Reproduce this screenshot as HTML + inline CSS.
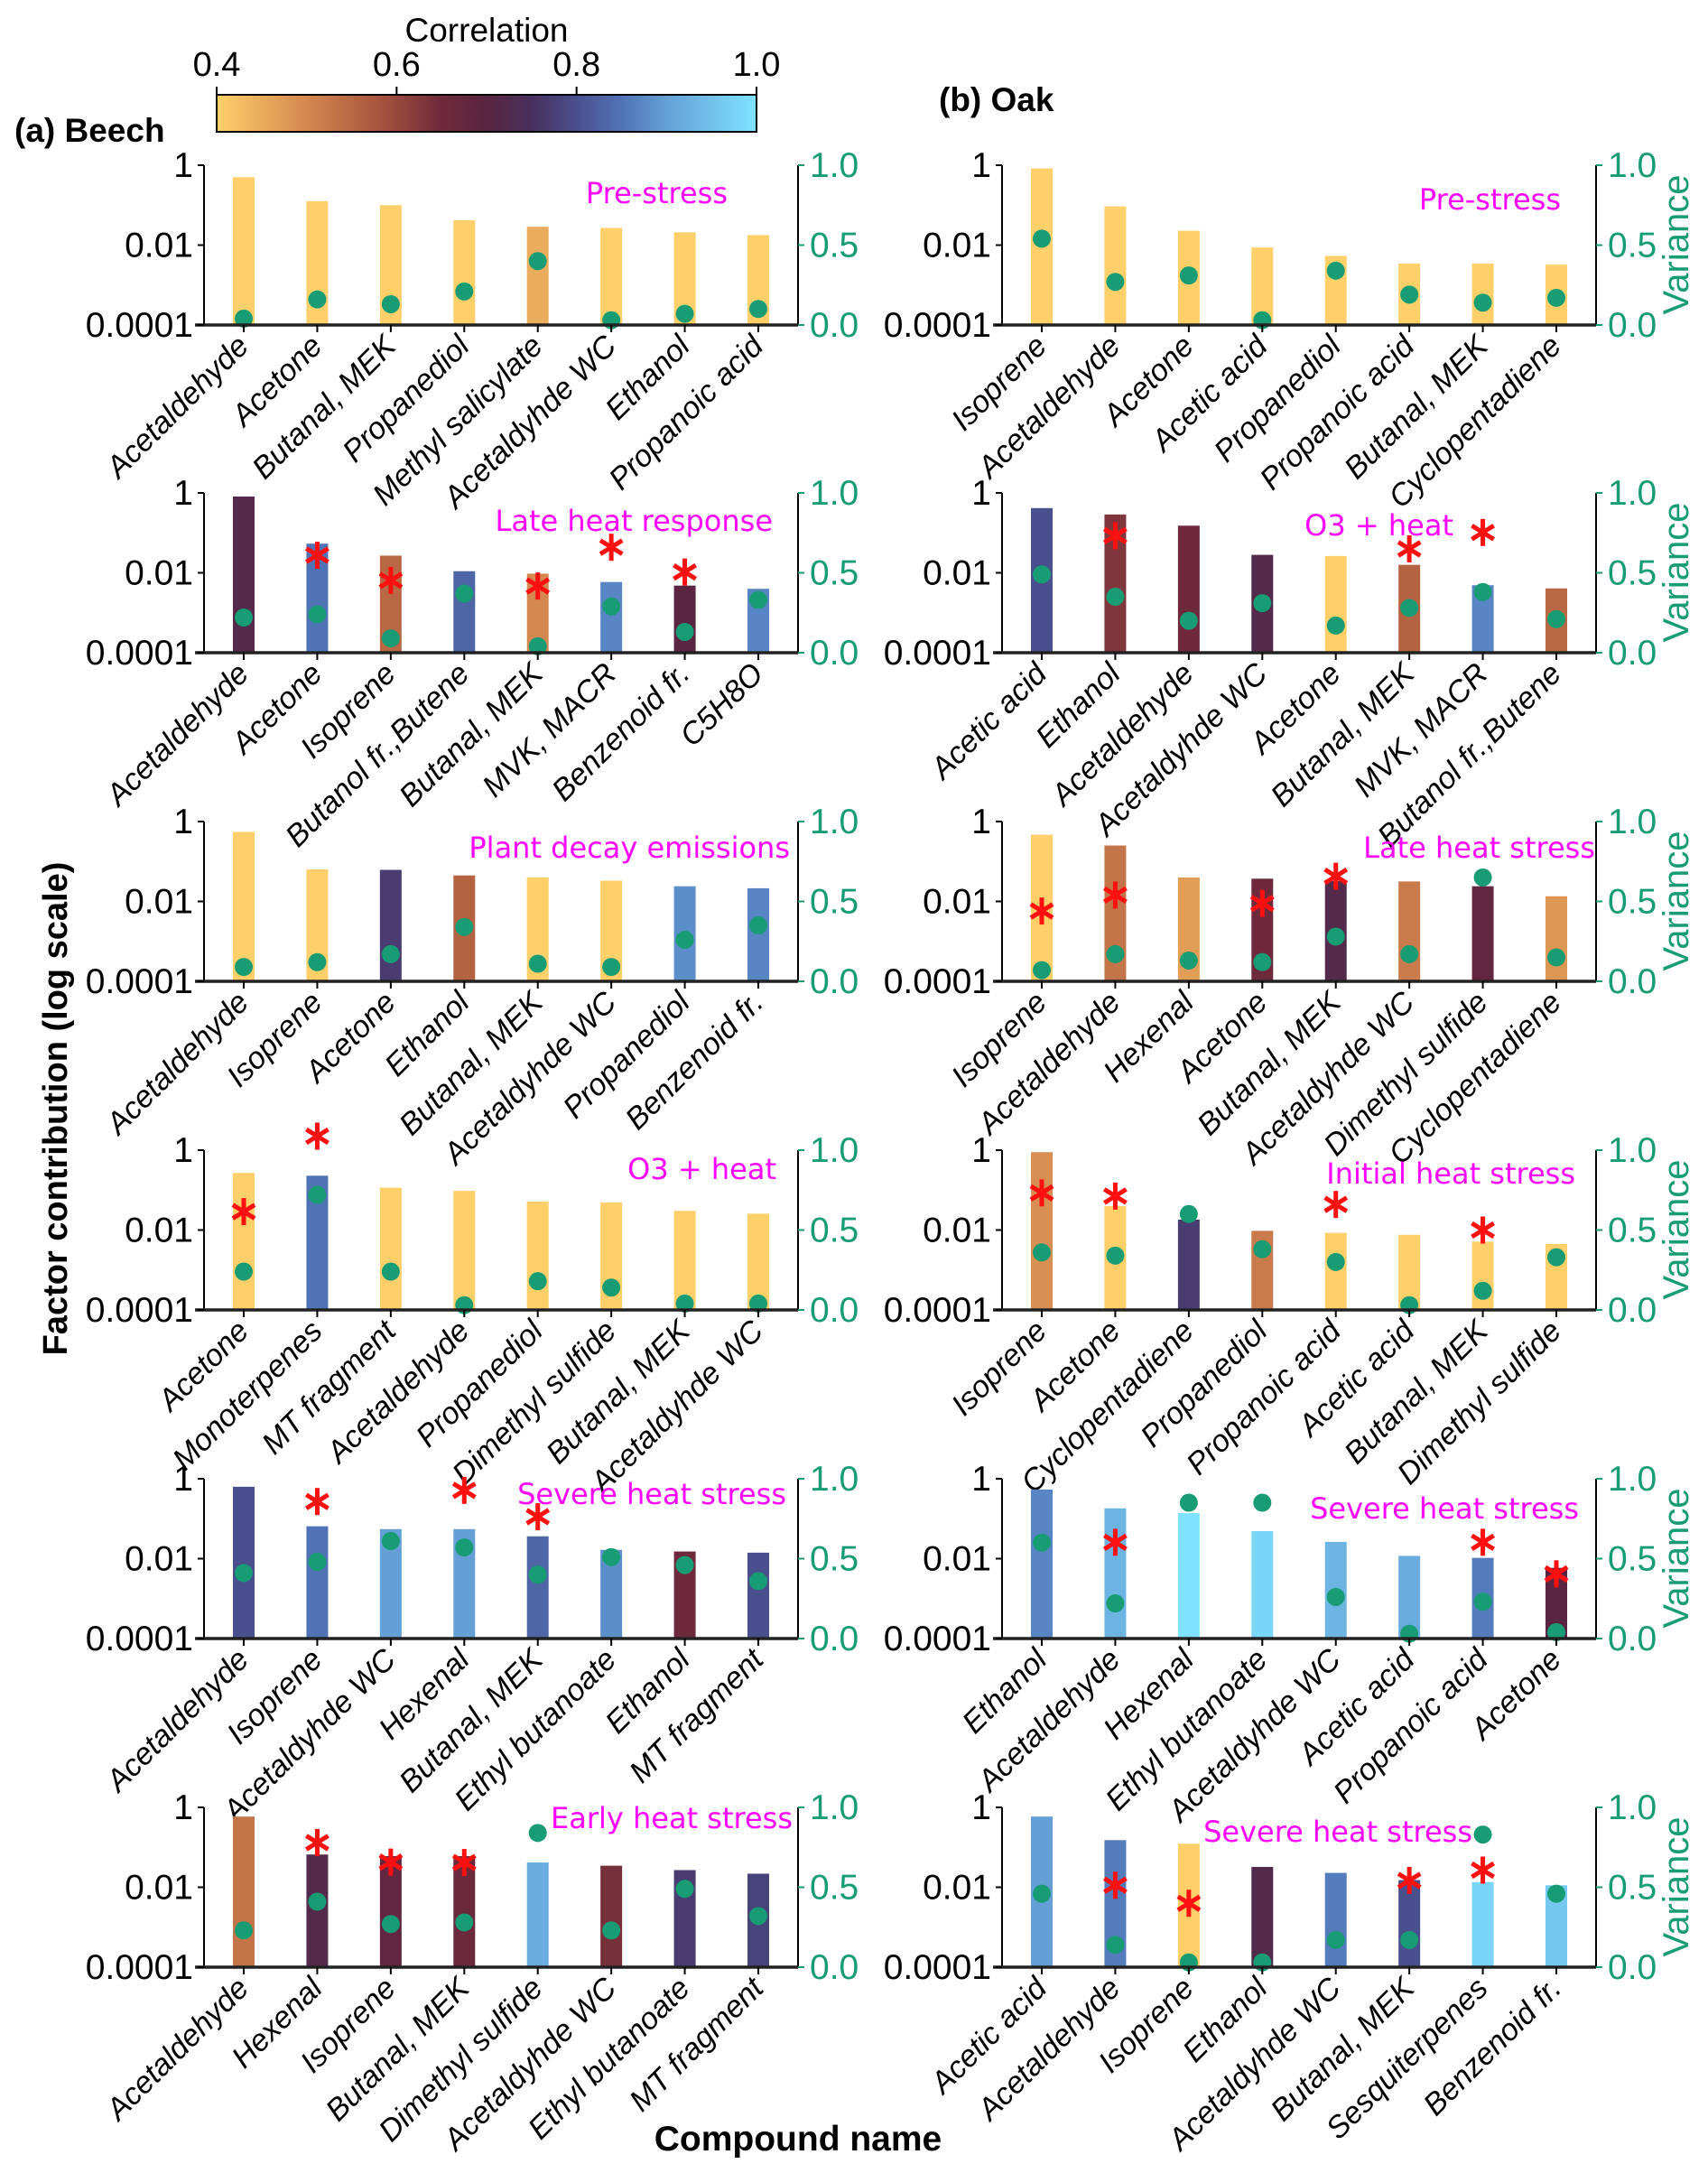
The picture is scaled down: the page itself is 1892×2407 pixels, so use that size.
<!DOCTYPE html>
<html><head><meta charset="utf-8"><style>
html,body{margin:0;padding:0;background:#fff}
svg{display:block}
text{font-family:"Liberation Sans",sans-serif}
</style></head><body>
<svg id="fig" width="1892" height="2407" viewBox="0 0 1892 2407" xmlns="http://www.w3.org/2000/svg">
<defs>
<linearGradient id="cmap" x1="0" x2="1" y1="0" y2="0">
<stop offset="0" stop-color="#ffd06a"/><stop offset="0.1667" stop-color="#d4884f"/><stop offset="0.3" stop-color="#a8553e"/><stop offset="0.4167" stop-color="#6e2a3c"/><stop offset="0.5" stop-color="#5a2540"/><stop offset="0.5833" stop-color="#48305e"/><stop offset="0.6667" stop-color="#4a4f8e"/><stop offset="0.75" stop-color="#5073b6"/><stop offset="0.8333" stop-color="#64a0d6"/><stop offset="1" stop-color="#7fe3ff"/>
</linearGradient>
</defs>
<g id="cbar">
<text x="539" y="46" font-size="37" text-anchor="middle">Correlation</text>
<rect x="240" y="105" width="598" height="41" fill="url(#cmap)" stroke="#000" stroke-width="2"/>
</g>
<text x="16" y="157" font-size="37" font-weight="bold">(a) Beech</text>
<text x="1040" y="123" font-size="37" font-weight="bold">(b) Oak</text>
<text transform="translate(74,1228) rotate(-90)" font-size="38" font-weight="bold" text-anchor="middle">Factor contribution (log scale)</text>
<text x="884" y="2382" font-size="39" font-weight="bold" text-anchor="middle">Compound name</text>
<g id="panels"></g>
</svg>
<script>
const cbTicks=[0.4,0.6,0.8,1.0];
const cbTickLabels=["0.4","0.6","0.8","1.0"];
const leftTicks=[0,-2,-4];
const leftTickLabels=["1","0.01","0.0001"];
const rightTicks=[1,0.5,0];
const rightTickLabels=["1.0","0.5","0.0"];

const b1Names=["Acetaldehyde","Acetone","Butanal, MEK","Propanediol","Methyl salicylate","Acetaldyhde WC","Ethanol","Propanoic acid"];
const b1Log=[-0.3,-0.9,-1.0,-1.38,-1.54,-1.57,-1.68,-1.75];
const b1Var=[0.04,0.16,0.13,0.21,0.40,0.03,0.07,0.10];
const b1Corr=[0.4,0.4,0.4,0.4,0.45,0.4,0.4,0.4];
const b1Star=[null,null,null,null,null,null,null,null];

const b2Names=["Acetaldehyde","Acetone","Isoprene","Butanol fr.,Butene","Butanal, MEK","MVK, MACR","Benzenoid fr.","C5H8O"];
const b2Log=[-0.09,-1.27,-1.57,-1.96,-2.02,-2.23,-2.32,-2.40];
const b2Var=[0.22,0.24,0.09,0.37,0.04,0.29,0.13,0.33];
const b2Corr=[0.72,0.85,0.55,0.83,0.5,0.87,0.7,0.87];
const b2Star=[null,-1.56,-2.19,null,-2.33,-1.36,-1.98,null];

const b3Names=["Acetaldehyde","Isoprene","Acetone","Ethanol","Butanal, MEK","Acetaldyhde WC","Propanediol","Benzenoid fr."];
const b3Log=[-0.26,-1.2,-1.21,-1.35,-1.40,-1.48,-1.62,-1.67];
const b3Var=[0.09,0.12,0.17,0.34,0.11,0.09,0.26,0.35];
const b3Corr=[0.4,0.4,0.77,0.56,0.4,0.4,0.88,0.87];
const b3Star=[null,null,null,null,null,null,null,null];

const b4Names=["Acetone","Monoterpenes","MT fragment","Acetaldehyde","Propanediol","Dimethyl sulfide","Butanal, MEK","Acetaldyhde WC"];
const b4Log=[-0.57,-0.64,-0.94,-1.02,-1.29,-1.31,-1.52,-1.59];
const b4Var=[0.24,0.72,0.24,0.03,0.18,0.14,0.04,0.04];
const b4Corr=[0.4,0.85,0.4,0.4,0.4,0.4,0.4,0.4];
const b4Star=[-1.54,0.35,null,null,null,null,null,null];

const b5Names=["Acetaldehyde","Isoprene","Acetaldyhde WC","Hexenal","Butanal, MEK","Ethyl butanoate","Ethanol","MT fragment"];
const b5Log=[-0.2,-1.19,-1.26,-1.26,-1.44,-1.78,-1.82,-1.85];
const b5Var=[0.41,0.48,0.61,0.57,0.40,0.51,0.46,0.36];
const b5Corr=[0.8,0.85,0.9,0.9,0.83,0.88,0.65,0.8];
const b5Star=[null,-0.57,null,-0.29,-0.95,null,null,null];

const b6Names=["Acetaldehyde","Hexenal","Isoprene","Butanal, MEK","Dimethyl sulfide","Acetaldyhde WC","Ethyl butanoate","MT fragment"];
const b6Log=[-0.23,-1.18,-1.22,-1.22,-1.38,-1.46,-1.57,-1.66];
const b6Var=[0.23,0.41,0.27,0.28,0.84,0.23,0.49,0.32];
const b6Corr=[0.53,0.72,0.68,0.66,0.92,0.64,0.77,0.78];
const b6Star=[null,-0.88,-1.37,-1.38,null,null,null,null];

const o1Names=["Isoprene","Acetaldehyde","Acetone","Acetic acid","Propanediol","Propanoic acid","Butanal, MEK","Cyclopentadiene"];
const o1Log=[-0.08,-1.03,-1.64,-2.06,-2.27,-2.46,-2.46,-2.49];
const o1Var=[0.54,0.27,0.31,0.03,0.34,0.19,0.14,0.17];
const o1Corr=[0.4,0.4,0.4,0.4,0.4,0.4,0.4,0.4];
const o1Star=[null,null,null,null,null,null,null,null];

const o2Names=["Acetic acid","Ethanol","Acetaldehyde","Acetaldyhde WC","Acetone","Butanal, MEK","MVK, MACR","Butanol fr.,Butene"];
const o2Log=[-0.38,-0.54,-0.82,-1.55,-1.58,-1.80,-2.31,-2.39];
const o2Var=[0.49,0.35,0.20,0.31,0.17,0.28,0.38,0.21];
const o2Corr=[0.8,0.63,0.65,0.72,0.4,0.56,0.87,0.55];
const o2Star=[null,-1.07,null,null,null,-1.40,-0.99,null];

const o3Names=["Isoprene","Acetaldehyde","Hexenal","Acetone","Butanal, MEK","Acetaldyhde WC","Dimethyl sulfide","Cyclopentadiene"];
const o3Log=[-0.33,-0.6,-1.40,-1.43,-1.49,-1.50,-1.62,-1.87];
const o3Var=[0.07,0.17,0.13,0.12,0.28,0.17,0.65,0.15];
const o3Corr=[0.4,0.53,0.47,0.65,0.72,0.52,0.68,0.48];
const o3Star=[-2.24,-1.84,null,-2.05,-1.37,null,null,null];

const o4Names=["Isoprene","Acetone","Cyclopentadiene","Propanediol","Propanoic acid","Acetic acid","Butanal, MEK","Dimethyl sulfide"];
const o4Log=[-0.05,-1.40,-1.74,-2.02,-2.07,-2.12,-2.29,-2.35];
const o4Var=[0.36,0.34,0.60,0.38,0.30,0.03,0.12,0.33];
const o4Corr=[0.49,0.4,0.77,0.52,0.4,0.4,0.4,0.4];
const o4Star=[-1.07,-1.15,null,null,-1.36,null,-2.0,null];

const o5Names=["Ethanol","Acetaldehyde","Hexenal","Ethyl butanoate","Acetaldyhde WC","Acetic acid","Propanoic acid","Acetone"];
const o5Log=[-0.27,-0.74,-0.86,-1.31,-1.58,-1.93,-1.98,-2.23];
const o5Var=[0.60,0.22,0.85,0.85,0.26,0.03,0.23,0.04];
const o5Corr=[0.87,0.93,1.0,0.98,0.93,0.92,0.86,0.7];
const o5Star=[null,-1.59,null,null,null,null,-1.59,-2.38];

const o6Names=["Acetic acid","Acetaldehyde","Isoprene","Ethanol","Acetaldyhde WC","Butanal, MEK","Sesquiterpenes","Benzenoid fr."];
const o6Log=[-0.23,-0.82,-0.91,-1.49,-1.64,-1.82,-1.87,-1.95];
const o6Var=[0.46,0.14,0.03,0.03,0.17,0.17,0.83,0.46];
const o6Corr=[0.9,0.86,0.4,0.72,0.86,0.8,0.98,0.96];
const o6Star=[null,-1.95,-2.4,null,null,-1.83,-1.57,null];

const NS="http://www.w3.org/2000/svg";
const GREEN="#179c73";
const stops=[[0.4,[255,208,106]],[0.5,[212,136,79]],[0.58,[168,85,62]],[0.65,[110,42,60]],[0.7,[90,37,64]],[0.75,[72,48,94]],[0.8,[74,79,142]],[0.85,[80,115,182]],[0.9,[100,160,214]],[1.0,[127,227,255]]];
function cmap(v){
  v=Math.max(0.4,Math.min(1,v));
  for(let i=0;i<stops.length-1;i++){
    const a=stops[i],b=stops[i+1];
    if(v<=b[0]){const t=(v-a[0])/(b[0]-a[0]);
      const c=a[1].map((x,k)=>Math.round(x+(b[1][k]-x)*t));
      return `rgb(${c[0]},${c[1]},${c[2]})`;}
  }
  return "rgb(127,227,255)";
}
function el(tag,attrs,parent,txt){
  const e=document.createElementNS(NS,tag);
  for(const k in attrs)e.setAttribute(k,attrs[k]);
  if(txt!==undefined)e.textContent=txt;
  parent.appendChild(e);return e;
}
const cbG=document.getElementById('cbar');
const cbX=v=>240+(v-0.4)/0.6*598;
cbTicks.forEach((t,i)=>{
  const ln=el('line',{x1:cbX(t),x2:cbX(t),y1:105,y2:96,stroke:'#000','stroke-width':2},cbG);
  
  
  const tx=el('text',{x:cbX(t),y:84,'font-size':38,'text-anchor':'middle'},cbG,cbTickLabels[i]);
  
  
});

const rowTops=[183,546,910,1274,1638,2002];
const H=177;
const panels=[
 {id:'beech-pre',col:0,row:0,label:'Pre-stress',lx:806,ly:31,n:b1Names,v:b1Log,va:b1Var,c:b1Corr,s:b1Star},
 {id:'beech-late-heat-response',col:0,row:1,label:'Late heat response',lx:856,ly:31,n:b2Names,v:b2Log,va:b2Var,c:b2Corr,s:b2Star},
 {id:'beech-plant-decay',col:0,row:2,label:'Plant decay emissions',lx:875,ly:29,n:b3Names,v:b3Log,va:b3Var,c:b3Corr,s:b3Star},
 {id:'beech-o3-heat',col:0,row:3,label:'O3 + heat',lx:860,ly:21,n:b4Names,v:b4Log,va:b4Var,c:b4Corr,s:b4Star},
 {id:'beech-severe-heat',col:0,row:4,label:'Severe heat stress',lx:871,ly:17,n:b5Names,v:b5Log,va:b5Var,c:b5Corr,s:b5Star},
 {id:'beech-early-heat',col:0,row:5,label:'Early heat stress',lx:878,ly:12,n:b6Names,v:b6Log,va:b6Var,c:b6Corr,s:b6Star},
 {id:'oak-pre',col:1,row:0,label:'Pre-stress',lx:1729,ly:38,n:o1Names,v:o1Log,va:o1Var,c:o1Corr,s:o1Star},
 {id:'oak-o3-heat',col:1,row:1,label:'O3 + heat',lx:1610,ly:36,n:o2Names,v:o2Log,va:o2Var,c:o2Corr,s:o2Star},
 {id:'oak-late-heat',col:1,row:2,label:'Late heat stress',lx:1767,ly:29,n:o3Names,v:o3Log,va:o3Var,c:o3Corr,s:o3Star},
 {id:'oak-initial-heat',col:1,row:3,label:'Initial heat stress',lx:1745,ly:26,n:o4Names,v:o4Log,va:o4Var,c:o4Corr,s:o4Star},
 {id:'oak-severe-heat-1',col:1,row:4,label:'Severe heat stress',lx:1749,ly:33,n:o5Names,v:o5Log,va:o5Var,c:o5Corr,s:o5Star},
 {id:'oak-severe-heat-2',col:1,row:5,label:'Severe heat stress',lx:1631,ly:27,n:o6Names,v:o6Log,va:o6Var,c:o6Corr,s:o6Star}
];
const root=document.getElementById('panels');
panels.forEach(p=>{
  const L=p.col?1110:226, R=p.col?1768:884, T=rowTops[p.row], B=T+H;
  const g=el('g',{},root);
  
  
  const step=(R-L-88)/(p.n.length-1);
  const x=i=>L+44+i*step;
  const yL=lg=>T+(0-lg)/4*H;
  const yR=v=>B-v*H;
  p.n.forEach((nm,i)=>{
    const yt=yL(p.v[i]);
    const r=el('rect',{x:x(i)-12,y:yt,width:24,height:B-yt,fill:cmap(p.c[i])},g);
    
    
  });
  p.va.forEach((v,i)=>{
    const c=el('circle',{cx:x(i),cy:yR(v),r:10,fill:GREEN},g);
    
    
  });
  p.s.forEach((sv,i)=>{
    if(sv===null)return;
    const cx=x(i),cy=yL(sv);
    const sg=el('g',{stroke:'#ff1010','stroke-width':5,'stroke-linecap':'butt'},g);
    
    
    for(let k=0;k<3;k++){
      const a=(90+k*60)*Math.PI/180;
      el('line',{x1:cx-14*Math.cos(a),y1:cy-15*Math.sin(a),x2:cx+14*Math.cos(a),y2:cy+15*Math.sin(a)},sg);
    }
  });
  const ax=el('g',{},g);
  
  
  el('line',{x1:L,x2:L,y1:T,y2:B,stroke:'#000','stroke-width':2},ax);
  el('line',{x1:R,x2:R,y1:T,y2:B,stroke:'#000','stroke-width':2},ax);
  el('line',{x1:L-10,x2:R,y1:B,y2:B,stroke:'#222','stroke-width':3.5},ax);
  leftTicks.forEach((t,i)=>{
    el('line',{x1:L-7,x2:L,y1:yL(t),y2:yL(t),stroke:'#000','stroke-width':2},ax);
    const tx=el('text',{x:L-12,y:yL(t)+13,'font-size':39,'text-anchor':'end'},ax,leftTickLabels[i]);
    
    
  });
  rightTicks.forEach((t,i)=>{
    el('line',{x1:R,x2:R+7,y1:yR(t),y2:yR(t),stroke:GREEN,'stroke-width':2},ax);
    const tx=el('text',{x:R+13,y:yR(t)+13,'font-size':39,fill:GREEN},ax,rightTickLabels[i]);
    
    
  });
  p.n.forEach((nm,i)=>{
    el('line',{x1:x(i),x2:x(i),y1:B,y2:B+8,stroke:'#000','stroke-width':2},ax);
    const tx=el('text',{transform:`translate(${x(i)-1},${B+17}) rotate(-45)`,'font-size':34,'font-style':'italic','text-anchor':'end',dy:'0.35em'},ax,nm);
    
    
  });
  const lb=el('text',{x:p.lx,y:T+p.ly+11,'font-size':32,fill:'#ff00ff','text-anchor':'end',style:'font-family:"DejaVu Sans",sans-serif'},g,p.label);
  
  
  if(p.col===1){
    const vl=el('text',{transform:`translate(1870,${T+88}) rotate(-90)`,'font-size':40,fill:GREEN,'text-anchor':'middle'},g,'Variance');
    
    
  }
});
</script>
</body></html>
